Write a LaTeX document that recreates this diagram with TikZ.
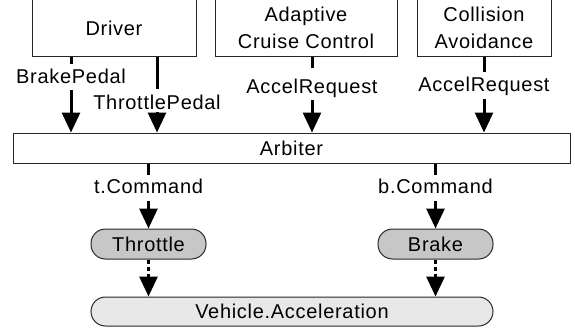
\documentclass[tikz,border=0pt]{standalone}
\usepackage{fontspec}
\setmainfont{Liberation Sans}[LetterSpace=3.5]
\usetikzlibrary{arrows.meta}
\begin{document}
\begin{tikzpicture}[x=1pt,y=-1pt,
  font=\fontsize{20}{27}\selectfont,
  box/.style={draw=black!85,line width=1,inner sep=0,align=center},
  pill/.style={draw=black!85,line width=1,inner sep=0,rounded corners=14.5},
  arr/.style={line width=3,-{Triangle[length=20,width=18]}},
  darr/.style={arr,dash pattern=on 4 off 3},
  lab/.style={fill=white,inner xsep=2,inner ysep=0,anchor=base}]
\useasboundingbox (0,0) rectangle (575,329);
% top boxes
\node[box,minimum width=164,minimum height=58] (drv) at (114,28) {Driver};
\node[box,minimum width=182,minimum height=58] (acc) at (306,28) {Adaptive\\Cruise Control};
\node[box,minimum width=134,minimum height=58] (ca) at (484,28) {Collision\\Avoidance};
\node[box,minimum width=557,minimum height=30] (arb) at (291.5,148) {Arbiter};
\node[pill,fill=black!22,minimum width=115,minimum height=30] (thr) at (148.5,244) {Throttle};
\node[pill,fill=black!22,minimum width=115,minimum height=30] (brk) at (435.5,244) {Brake};
\node[pill,fill=black!9,minimum width=402,minimum height=29] (va) at (292,311.5) {Vehicle.Acceleration};
% connectors
\draw[arr] (71,0 |- drv.south) -- (71,0 |- arb.north);
\draw[arr] (157,0 |- drv.south) -- (157,0 |- arb.north);
\draw[arr] (312,0 |- acc.south) -- (312,0 |- arb.north);
\draw[arr] (484,0 |- ca.south) -- (484,0 |- arb.north);
\draw[arr] (148.5,0 |- arb.south) -- (thr.north);
\draw[arr] (435.5,0 |- arb.south) -- (brk.north);
\draw[darr] (thr.south) -- (148.5,0 |- va.north);
\draw[darr] (brk.south) -- (435.5,0 |- va.north);
% labels
\node[lab,text height=19,text depth=7] (lbp) at (71,83) {BrakePedal};
\node[lab,text height=20,text depth=3] (ltp) at (157,109) {ThrottlePedal};
\node[lab,text height=25,text depth=7] (lar1) at (312,93) {AccelRequest};
\node[lab,text height=20,text depth=7] (lar2) at (484,92) {AccelRequest};
\node[lab,text height=18,text depth=8] (ltc) at (148.5,193) {t.Command};
\node[lab,text height=18,text depth=8] (lbc) at (435.5,193) {b.Command};
\end{tikzpicture}
\end{document}
